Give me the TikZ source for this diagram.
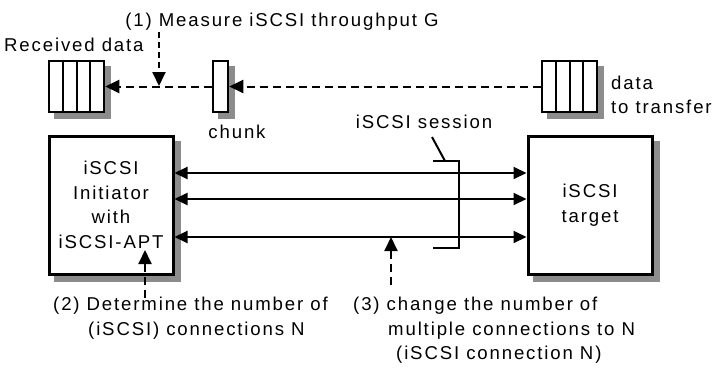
\documentclass[tikz,border=0pt]{standalone}
\usepackage{fontspec}
\setmainfont[LetterSpace=10]{Liberation Sans}
\usetikzlibrary{arrows.meta,backgrounds}

\tikzset{
  buf/.style={draw, line width=2.5pt, fill=white, minimum height=51pt, inner sep=0pt},
  host/.style={draw, line width=3pt, fill=white, minimum width=124pt, minimum height=138pt, align=center},
  lbl/.style={inner sep=1pt},
  conn/.style={line width=2pt, {Triangle[length=13pt,width=12pt]}-{Triangle[length=13pt,width=12pt]}},
  dasharr/.style={line width=2pt, dash pattern=on 8pt off 5pt, -{Triangle[length=14pt,width=13pt]}},
}

\begin{document}
\begin{tikzpicture}[x=1pt, y=-1pt, font=\fontsize{18.6}{24.6}\selectfont]
  \useasboundingbox (0,0) rectangle (717,370);

  % buffers and chunk
  \node[buf, minimum width=55pt] (recv) at (76.5,86.5) {};
  \foreach \x in {62.75,76.5,90.25}
    \draw[line width=2pt] (\x,61) -- (\x,112);
  \node[buf, minimum width=15pt] (chunk) at (220.5,86.5) {};
  \node[buf, minimum width=55pt] (send) at (569.5,86.5) {};
  \foreach \x in {555.75,569.5,583.25}
    \draw[line width=2pt] (\x,61) -- (\x,112);

  \node[lbl, anchor=west] (rdata) at (3,45) {Received data};
  \node[lbl] (chklbl) at (237,132) {chunk};
  \node[lbl, anchor=west, align=left] (tdata) at (610,95) {data\\to transfer};
  \node[lbl] (meas) at (282,22) {(1) Measure iSCSI throughput G};

  \draw[dasharr] (chunk) -- (recv);
  \draw[dasharr] (send) -- (chunk);
  \coordinate (tap) at (159,86);
  \draw[dasharr, dash pattern=on 6pt off 4pt] (meas.south -| tap) -- (tap);

  % hosts
  \node[host] (ini) at (111,205) {iSCSI\\Initiator\\with\\iSCSI-APT};
  \node[host] (tgt) at (590,205) {iSCSI\\target};

  \foreach \y [count=\i] in {173,199,237} {
    \coordinate (a\i) at (ini.east |- 0,\y);
    \coordinate (b\i) at (tgt.west |- 0,\y);
    \draw[conn] (a\i) -- (b\i);
  }

  % session bracket
  \node[lbl] (sess) at (424,122) {iSCSI session};
  \coordinate (brk) at (445,161);
  \draw[line width=2pt] (433,161) -- (459,161) -- (459,248) -- (433,248);
  \draw[line width=2pt] (432,137) -- (brk);

  % steps (2) and (3)
  \node[lbl, anchor=north west, align=left] (det) at (52,296)
    {(2) Determine the number of\\\hspace*{35pt}(iSCSI) connections N};
  \node[lbl, anchor=north west, align=left] (chg) at (352,296)
    {(3) change the number of\\\hspace*{35pt}multiple connections to N\\\hspace*{43pt}(iSCSI connection N)};
  \coordinate (t2) at (145,250);
  \coordinate (t3) at (391,237);
  \draw[dasharr] (145,298) -- (t2);
  \draw[dasharr] (391,285) -- (t3);

  % shadows
  \begin{scope}[on background layer]
    \foreach \n in {recv,chunk,send,ini,tgt}
      \fill[black!45] ([shift={(6pt,-6pt)}]\n.south west) rectangle ([shift={(6pt,-6pt)}]\n.north east);
  \end{scope}
\end{tikzpicture}
\end{document}
